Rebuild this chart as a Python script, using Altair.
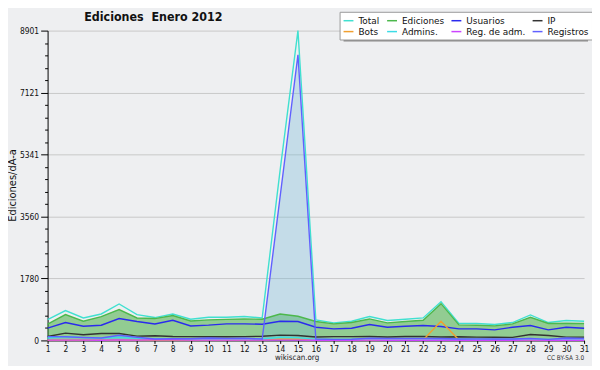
import altair as alt
import pandas as pd

# ---------------- data ----------------
days = list(range(1, 32))
total = [600, 857, 646, 760, 1046, 743, 657, 760, 609, 666, 666, 686, 647, 4880, 8901,
         589, 503, 551, 686, 571, 609, 646, 1114, 486, 486, 457, 514, 731, 514, 571, 551]
ediciones = [466, 743, 551, 686, 886, 646, 628, 714, 560, 590, 605, 615, 609, 760, 693,
             543, 474, 514, 617, 503, 543, 580, 1057, 446, 437, 417, 474, 666, 486, 494, 486]
usuarios = [351, 514, 409, 437, 628, 543, 474, 580, 415, 438, 476, 476, 466, 552, 543,
            380, 332, 351, 457, 380, 409, 428, 400, 332, 332, 303, 380, 428, 303, 380, 351]
ip = [114, 210, 162, 200, 200, 124, 133, 114, 110, 105, 105, 110, 120, 152, 143,
      100, 110, 110, 114, 100, 114, 114, 100, 105, 95, 90, 86, 171, 143, 95, 95]
bots = [5, 5, 5, 5, 5, 5, 5, 5, 5, 5, 5, 5, 10, 40, 35,
        5, 5, 5, 5, 5, 5, 10, 551, 10, 5, 5, 5, 5, 5, 5, 5]
admins = [70, 110, 80, 60, 90, 60, 50, 40, 40, 40, 40, 40, 40, 90, 80,
          30, 30, 30, 50, 40, 40, 40, 50, 30, 30, 30, 30, 40, 30, 30, 30]
reg_adm = [10, 10, 10, 5, 15, 10, 20, 20, 10, 10, 10, 10, 10, 10, 10,
           5, 5, 5, 10, 5, 5, 5, 5, 5, 5, 5, 5, 10, 5, 5, 5]
registros = [110, 105, 85, 70, 150, 90, 40, 50, 50, 70, 60, 65, 40, 4120, 8208,
             40, 30, 35, 65, 60, 60, 60, 55, 40, 45, 40, 40, 60, 30, 70, 60]

series_names = ["Total", "Ediciones", "Usuarios", "IP",
                "Bots", "Admins.", "Reg. de adm.", "Registros"]
series_colors = ["#40e0d0", "#4cb84c", "#2a2aee", "#333333",
                 "#f0a030", "#3cdce6", "#cc44ff", "#6060ff"]
y_ticks = [i * 8901 / 25 for i in range(26)]

wide = pd.DataFrame({
    "day": days, "Total": total, "Ediciones": ediciones, "Usuarios": usuarios,
    "IP": ip, "Bots": bots, "Admins.": admins, "Reg. de adm.": reg_adm,
    "Registros": registros,
})
long = wide.melt("day", var_name="serie", value_name="valor")
one = pd.DataFrame({"k": [0]})

FONT = "DejaVu Sans"
COND = "DejaVu Sans Condensed, DejaVu Sans"
BG = "#eeeff1"
is_major = "abs(datum.value/1780.2 - round(datum.value/1780.2)) < 0.01"

xenc = alt.X("day:Q",
             scale=alt.Scale(domain=[1, 31], nice=False, zero=False),
             axis=alt.Axis(values=days, format="d", title=None, grid=False,
                           tickSize=3, labelPadding=1, labelFontSize=8.5,
                           labelFont=COND, labelColor="#111", labelFlush=False,
                           domainColor="black", tickColor="black"))
yaxis = alt.Axis(values=y_ticks, format="d", title="Ediciones/dÃ-a",
                 labelExpr=f"({is_major}) ? datum.label : ''",
                 tickSize={"condition": {"test": is_major, "value": 7}, "value": 3},
                 gridOpacity={"condition": {"test": is_major, "value": 1}, "value": 0},
                 gridColor="#c8c8c8", labelPadding=2, labelFontSize=8.5,
                 labelFont=COND, labelColor="#111", domainColor="black",
                 tickColor="black", titleFont=FONT, titleFontSize=10,
                 titleFontWeight="normal", titleColor="#111",
                 titleX=-30, titleY=156)
yscale = alt.Scale(domain=[0, 8901], nice=False, zero=True)

area_ed = alt.Chart(wide).mark_area(color="#36a933", opacity=0.5).encode(
    x=xenc, y=alt.Y("Ediciones:Q", scale=yscale, axis=yaxis))
area_reg = alt.Chart(wide).mark_area(color="#76bbd7", opacity=0.35).encode(
    x=xenc, y=alt.Y("Registros:Q", scale=yscale, axis=yaxis))

lines = alt.Chart(long).mark_line(strokeWidth=1.4).encode(
    x=xenc,
    y=alt.Y("valor:Q", scale=yscale, axis=yaxis),
    color=alt.Color("serie:N", sort=series_names,
                    scale=alt.Scale(domain=series_names, range=series_colors),
                    legend=alt.Legend(title=None, orient="none", legendX=295, legendY=-19,
                                      direction="horizontal", columns=4,
                                      symbolType="stroke", symbolSize=100,
                                      symbolStrokeWidth=1.5, labelFont=FONT,
                                      labelFontSize=9, labelColor="#111",
                                      fillColor="white", strokeColor="#999",
                                      padding=3, rowPadding=0, columnPadding=4,
                                      labelOffset=4)),
)

shadow = alt.Chart(one).mark_rect(color="#8a8a8a").encode(
    x=alt.value(299), x2=alt.value(546), y=alt.value(-15), y2=alt.value(11))

title = alt.Chart(one).mark_text(text="Ediciones\u00a0 Enero 2012", align="left",
                                 baseline="alphabetic", font=COND, fontSize=12.5,
                                 fontWeight="bold", color="#111").encode(
    x=alt.value(37), y=alt.value(-10))
foot1 = alt.Chart(one).mark_text(text="wikiscan.org", align="center",
                                 baseline="alphabetic", font=COND, fontSize=8,
                                 color="#222").encode(x=alt.value(252), y=alt.value(333))
foot2 = alt.Chart(one).mark_text(text="CC BY-SA 3.0", align="right",
                                 baseline="alphabetic", font=COND, fontSize=6.5,
                                 color="#333").encode(x=alt.value(542), y=alt.value(333))

chart = alt.layer(area_ed, area_reg, lines, shadow, title, foot1, foot2).properties(
    width=542, height=313,
    autosize=alt.AutoSizeParams(type="none"),
    padding={"left": 40, "top": 21, "right": 8, "bottom": 24},
    background=BG,
).configure_view(stroke=None)

chart.save("out.html", embed_options={"renderer": "svg", "actions": False})
